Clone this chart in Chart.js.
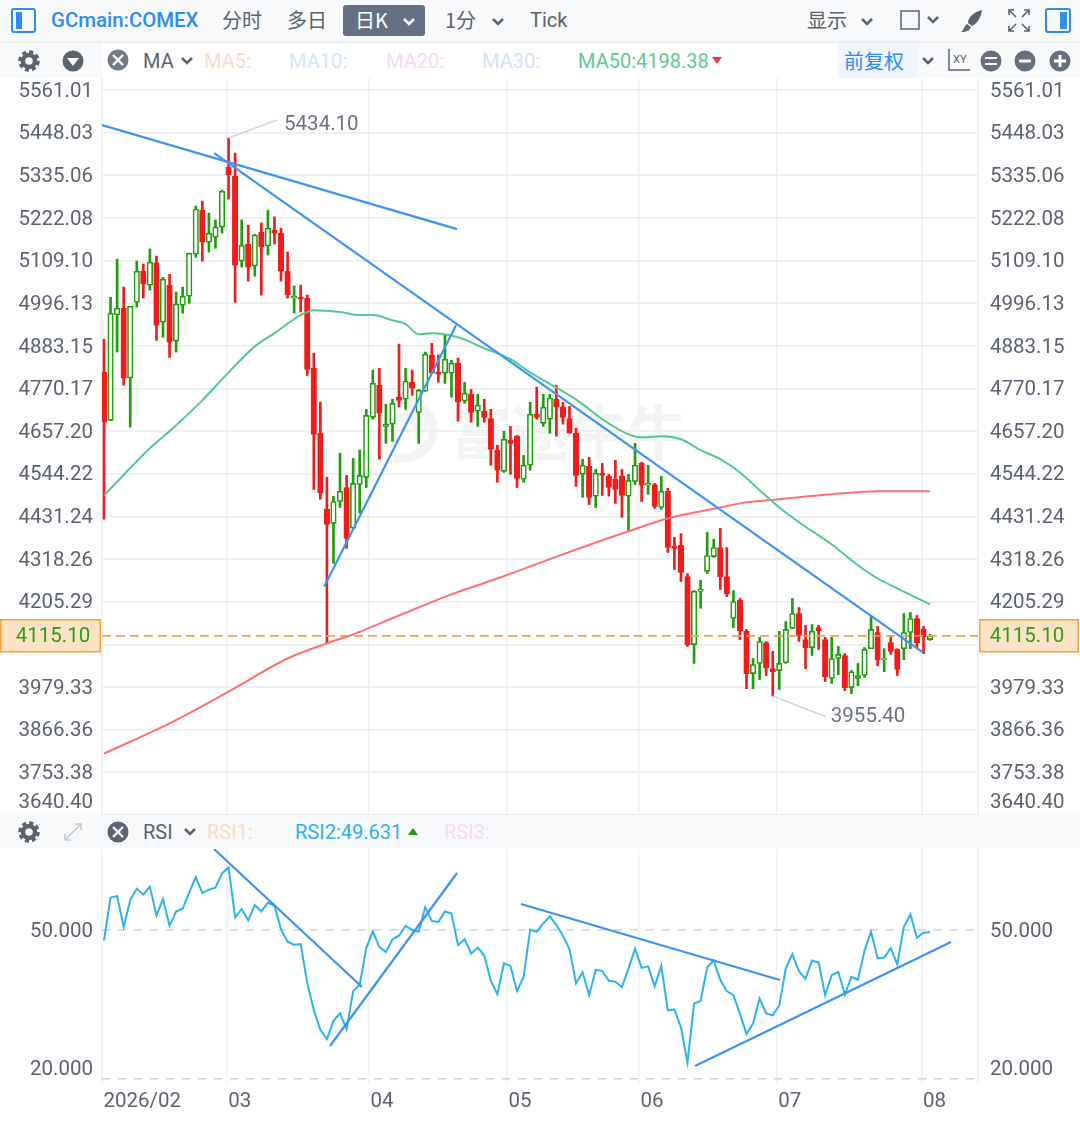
<!DOCTYPE html>
<html>
<head>
<meta charset="utf-8">
<title>GCmain:COMEX</title>
<script src="https://cdn.jsdelivr.net/npm/chart.js@4"></script>
<style>
  html, body { margin: 0; padding: 0; background: #fff; }
  body { width: 1080px; height: 1123px; position: relative; overflow: hidden;
    font-family: Roboto, "Noto Sans CJK SC", sans-serif; color: #5c6370; }
  canvas { position: absolute; left: 0; z-index: 2; }
  .bar { position: absolute; z-index: 3; background: #f7f9fa; left: 0; width: 1080px; }
  .t { position: absolute; white-space: nowrap; font-size: 20px; line-height: 24px; z-index: 4; text-align: left; }
  .cn { font-family: "Noto Sans CJK SC", sans-serif; font-size: 20px; line-height: 30px; }
  svg { position: absolute; z-index: 4; overflow: visible; }
  #wm { position: absolute; z-index: 1; left: 451px; top: 392px; line-height: 76px; font-size: 59px; color: #f3f4f5;
    font-family: "Noto Sans CJK SC", sans-serif; font-weight: 700; }
</style>
</head>
<body>
<!-- barra superior -->
<div class="bar" style="top:0;height:41px;border-bottom:2px solid #eceef0"></div>
<div class="bar" style="top:43px;height:35px;background:#f7f9fa"></div>
<div class="bar" style="top:43px;left:102px;width:737px;height:35px;background:#fff"></div>
<div class="bar" style="top:43px;left:838px;width:80px;height:35px;background:#eff6fd"></div>
<div class="bar" style="top:815px;height:33px"></div>

<svg style="left:11px;top:8px" width="25" height="25"><rect x="1" y="1" width="23" height="23" rx="2" fill="none" stroke="#2f8cf0" stroke-width="2"/><rect x="5" y="4" width="6" height="17" fill="#2f8cf0"/></svg>
<div class="t" style="left:51px;top:8px;color:#2f8cf0;font-weight:500;font-size:20.4px">GCmain:COMEX</div>
<div class="t cn" style="left:222px;top:5px">分时</div>
<div class="t cn" style="left:287px;top:5px">多日</div>
<div style="position:absolute;z-index:3;left:343px;top:5px;width:82px;height:31px;background:#667085;border-radius:3px"></div>
<div class="t cn" style="left:355px;top:5px;color:#fff">日K</div>
<svg style="left:402px;top:17px" width="14" height="10"><polyline points="2,2 7,7 12,2" fill="none" stroke="#fff" stroke-width="2.5"/></svg>
<div class="t cn" style="left:445px;top:5px">1分</div>
<svg style="left:491px;top:17px" width="14" height="10"><polyline points="2,2 7,7 12,2" fill="none" stroke="#5c6370" stroke-width="2.5"/></svg>
<div class="t" style="left:530px;top:8px">Tick</div>
<div class="t cn" style="left:807px;top:5px">显示</div>
<svg style="left:860px;top:17px" width="14" height="10"><polyline points="2,2 7,7 12,2" fill="none" stroke="#5c6370" stroke-width="2.5"/></svg>
<svg style="left:900px;top:10px" width="20" height="20"><rect x="1" y="1" width="18" height="18" fill="none" stroke="#5c6370" stroke-width="1.5"/></svg>
<svg style="left:926px;top:15px" width="14" height="10"><polyline points="2,2 7,7 12,2" fill="none" stroke="#5c6370" stroke-width="2.5"/></svg>
<svg style="left:960px;top:9px" width="23" height="24"><path d="M22 1 C14 3 8 8 8 14 L12 17 C18 14 21 8 22 1 Z M7 15 L11 18 C9 23 4 23 1 23 C4 21 4 17 7 15 Z" fill="#5c6370"/></svg>
<svg style="left:1008px;top:9px" width="22" height="23" fill="none" stroke="#5c6370" stroke-width="1.6"><path d="M1 6V1H6M16 1H21V6M21 17V22H16M6 22H1V17M2 2L8 8M20 2L14 8M20 21L14 15M2 21L8 15"/></svg>
<svg style="left:1045px;top:8px" width="26" height="25"><rect x="1" y="1" width="24" height="23" rx="2" fill="none" stroke="#2f8cf0" stroke-width="2"/><rect x="15" y="4" width="7" height="17" fill="#2f8cf0"/></svg>

<!-- fila de indicadores -->
<svg style="left:18px;top:50px" width="22" height="22"><circle cx="11" cy="11" r="6" fill="none" stroke="#5c6370" stroke-width="4.5"/><circle cx="11" cy="11" r="9" fill="none" stroke="#5c6370" stroke-width="3.5" stroke-dasharray="4 3.05"/></svg>
<svg style="left:62px;top:50px" width="22" height="22"><circle cx="11" cy="11" r="10.5" fill="#5c6370"/><polygon points="5,8 17,8 11,16" fill="#fff"/></svg>
<svg style="left:107px;top:49px" width="22" height="22"><circle cx="11" cy="11" r="10.5" fill="#737b88"/><path d="M6 6L16 16M16 6L6 16" stroke="#fff" stroke-width="2.4"/></svg>
<div class="t" style="left:143px;top:49px">MA</div>
<svg style="left:180px;top:56px" width="14" height="10"><polyline points="2,2 7,7 12,2" fill="none" stroke="#5c6370" stroke-width="2.5"/></svg>
<div class="t" style="left:204px;top:49px;color:#fddcc6">MA5:</div>
<div class="t" style="left:289px;top:49px;color:#d2e9fb">MA10:</div>
<div class="t" style="left:386px;top:49px;color:#f9d9f3">MA20:</div>
<div class="t" style="left:482px;top:49px;color:#d2e3fb">MA30:</div>
<div class="t" id="ma50Label" style="left:578px;top:49px;color:#5ecb92"></div>
<svg style="left:712px;top:57px" width="11" height="8"><polygon points="0,0 10,0 5,7" fill="#f03b3b"/></svg>
<div class="t cn" style="left:844px;top:46px;color:#2f8cf0">前复权</div>
<svg style="left:921px;top:56px" width="14" height="10"><polyline points="2,2 7,7 12,2" fill="none" stroke="#5c6370" stroke-width="2.5"/></svg>
<svg style="left:947px;top:49px" width="24" height="24" fill="none" stroke="#5c6370" stroke-width="1.5"><path d="M2 0V21H23"/><text x="6" y="14" font-size="11" fill="#5c6370" stroke="none">XY</text></svg>
<svg style="left:980px;top:50px" width="22" height="22"><circle cx="11" cy="11" r="10.5" fill="#66707f"/><path d="M5 8H17M5 14H17" stroke="#fff" stroke-width="2.2"/></svg>
<svg style="left:1014px;top:50px" width="22" height="22"><circle cx="11" cy="11" r="10.5" fill="#66707f"/><path d="M5 11H17" stroke="#fff" stroke-width="3"/></svg>
<svg style="left:1049px;top:50px" width="22" height="22"><circle cx="11" cy="11" r="10.5" fill="#66707f"/><path d="M5 11H17M11 5V17" stroke="#fff" stroke-width="3"/></svg>

<!-- fila RSI -->
<svg style="left:18px;top:821px" width="22" height="22"><circle cx="11" cy="11" r="6" fill="none" stroke="#5c6370" stroke-width="4.5"/><circle cx="11" cy="11" r="9" fill="none" stroke="#5c6370" stroke-width="3.5" stroke-dasharray="4 3.05"/></svg>
<svg style="left:64px;top:823px" width="18" height="18" fill="none" stroke="#c6ccd4" stroke-width="1.6"><path d="M11 1H17V7M17 1L1 17M1 11V17H7"/></svg>
<svg style="left:107px;top:821px" width="22" height="22"><circle cx="11" cy="11" r="10.5" fill="#5c6370"/><path d="M6 6L16 16M16 6L6 16" stroke="#fff" stroke-width="2.4"/></svg>
<div class="t" style="left:143px;top:820px">RSI</div>
<svg style="left:183px;top:827px" width="14" height="10"><polyline points="2,2 7,7 12,2" fill="none" stroke="#5c6370" stroke-width="2.5"/></svg>
<div class="t" style="left:207px;top:820px;color:#fddcc6">RSI1:</div>
<div class="t" id="rsi2Label" style="left:295px;top:820px;color:#2cb2ec"></div>
<svg style="left:408px;top:828px" width="11" height="8"><polygon points="0,7 10,7 5,0" fill="#1f9d0c"/></svg>
<div class="t" style="left:444px;top:820px;color:#f9d9f3">RSI3:</div>

<!-- marca de agua -->
<svg style="left:387px;top:392px;z-index:1" width="52" height="74" fill="none" stroke="#f3f4f5" stroke-width="9"><path d="M8 6 C38 6 48 30 46 40 C44 58 28 68 6 66"/><path d="M2 30 C18 20 30 26 30 38"/></svg>
<div id="wm">富途牛牛</div>

<canvas id="mainChart" width="1080" height="739" style="top:78px"></canvas>
<canvas id="rsiChart" width="1080" height="274" style="top:849px"></canvas>

<script>
// Velas
const opens = [4813,4686,4965,4983,4798,4999,5081,5044,5103,4946,5044,4896,4991,5015,5126,5243,5158,5171,5198,5357,
  5333,5108,5153,5095,5185,5148,5190,5182,5081,5010,5012,5010,4824,4652,4450,4413,4471,4508,4400,4516,
  4535,4694,4779,4670,4676,4747,4742,4787,4707,4763,4859,4813,4811,4811,4837,4737,4755,4710,4710,4691,
  4607,4551,4633,4644,4530,4567,4702,4678,4689,4742,4721,4691,4652,4543,4564,4485,4546,4538,4530,4538,
  4485,4524,4572,4514,4516,4455,4498,4352,4355,4272,4092,4233,4286,4325,4349,4272,4161,4209,4127,4015,
  4042,4097,4028,4023,4044,4135,4174,4105,4084,4137,4105,4002,4055,4063,3978,4002,4010,4081,4124,4052,
  4097,4079,4081,4124,4161,4132,4105];
const highs = [4901,5012,5113,5039,4988,5108,5100,5140,5121,5065,5073,5026,5039,5129,5254,5267,5235,5217,5296,5434.1,
  5394,5217,5203,5179,5209,5243,5225,5195,5132,5042,5044,5018,4864,4734,4535,4485,4599,4540,4585,4607,
  4715,4819,4824,4729,4742,4888,4824,4819,4768,4867,4890,4859,4912,4845,4851,4787,4768,4755,4742,4715,
  4620,4657,4670,4646,4593,4734,4774,4755,4755,4779,4734,4723,4665,4583,4588,4556,4572,4543,4580,4556,
  4543,4625,4575,4567,4519,4538,4506,4376,4386,4280,4235,4262,4389,4371,4400,4349,4235,4214,4132,4055,
  4111,4100,4074,4127,4153,4214,4190,4143,4145,4143,4111,4111,4087,4068,4023,4042,4084,4166,4140,4081,
  4113,4081,4174,4177,4169,4140,4119];
const lows = [4424,4686,4867,4779,4668,4986,5010,5031,4898,4906,4853,4867,4970,4996,5118,5108,5132,5142,5182,5272,
  4999,5092,5055,5068,5018,5124,5153,5055,5010,4970,4973,4805,4503,4477,4095,4307,4455,4347,4400,4440,
  4508,4689,4583,4625,4630,4721,4715,4752,4625,4763,4811,4787,4784,4747,4684,4731,4681,4670,4681,4567,
  4522,4548,4543,4508,4522,4554,4689,4670,4652,4644,4676,4652,4511,4482,4463,4455,4487,4485,4466,4429,
  4394,4516,4471,4490,4453,4450,4336,4291,4259,4087,4042,4188,4280,4323,4238,4219,4137,4105,3975,3975,
  3999,4010,3955.4,3973,4042,4135,4100,4028,4063,4079,3994,3989,4012,3970,3962,3983,4005,4081,4036,4020,
  4066,4010,4052,4081,4084,4068,4103];
const closes = [4681,4970,4983,4798,4988,5081,5047,5105,4938,5060,4893,4994,5015,5129,5246,5158,5182,5198,5293,5336,
  5097,5150,5092,5177,5145,5195,5182,5081,5018,5015,5007,4821,4649,4493,4410,4471,4498,4373,4519,4540,
  4699,4784,4705,4676,4731,4739,4790,4771,4766,4861,4811,4808,4848,4837,4734,4758,4707,4726,4694,4609,
  4554,4636,4625,4532,4567,4702,4694,4721,4745,4721,4694,4652,4540,4567,4482,4546,4540,4508,4503,4487,
  4527,4567,4514,4519,4458,4498,4349,4347,4283,4092,4233,4238,4328,4349,4272,4227,4206,4129,4015,4039,
  4100,4031,4020,4042,4132,4174,4116,4084,4127,4129,4007,4055,4066,3978,4020,4010,4079,4132,4052,4055,
  4074,4026,4124,4161,4097,4113,4115.1];

// Medias moviles (posicion de vela y valor)
const ma50X = [0,7,10.5,15,19,23,26,30,32,36,39,41,44,46,48,50,54,58,62,65,71,73,76,80,82,85,88,91,94,97,100,103,106,111,115,118,121,126];
const ma50Y = [4487,4612,4665,4739,4813,4882,4917,4965,4978,4973,4965,4965,4951,4941,4914,4917,4906,4877,4848,4813,4752,4729,4689,4649,4641,4644,4636,4607,4583,4548,4501,4455,4416,4357,4302,4267,4241,4198.38];
const ma200X = [0,10,19,28,34,38,45,53,60,70,80,86,94,97,103,111,118,126];
const ma200Y = [3803,3883,3967,4055,4095,4119,4169,4225,4267,4331,4392,4426,4455,4466,4477,4490,4498,4498];

// RSI2
const rsiValues = [47.9,56.6,56.9,50.7,56.1,58.4,57.2,58.8,53.0,56.3,50.9,53.8,54.4,57.6,60.8,57.5,58.2,58.6,61.5,62.7,
  52.6,54.3,52.0,55.1,53.8,55.6,55.0,50.2,47.7,47.1,47.2,39.3,33.9,29.9,28.0,31.7,33.2,30.0,37.7,39.0,
  46.4,49.8,46.6,45.6,48.2,48.9,50.9,50.1,49.7,54.7,51.9,51.7,53.8,53.4,47.0,48.2,45.3,46.5,44.9,39.8,
  37.1,43.3,42.8,37.7,40.6,50.1,49.7,51.4,52.8,51.1,48.9,46.2,39.3,41.5,36.9,42.0,41.8,39.8,39.6,38.5,
  42.3,46.3,42.4,42.7,38.7,42.8,33.8,34.0,30.4,23.3,35.2,35.7,42.5,43.9,40.0,37.7,36.9,33.1,29.0,31.2,
  36.2,33.2,32.8,34.8,42.3,45.2,41.7,40.2,43.9,43.5,36.9,40.9,41.6,37.0,40.6,40.0,45.9,49.7,44.3,44.5,
  46.4,43.1,50.7,53.2,48.5,49.5,49.631];

// Lineas de tendencia dibujadas a mano: [x1, y1, x2, y2]
const priceTrends = [[-0.3,5468.5,53.85,5192.7],[16.8,5394,124.9,4071],[33.6,4246,53.7,4938]];
const rsiTrends = [[16.78,66.43,39.35,38.54],[34.47,26.61,53.85,61.58],[63.6,55.32,103.1,39.95],[90.15,22.57,129.2,47.64]];

// Ejes
const xMin = -0.305, xMax = 133.31;
const xTickPos = [-0.305,18.72,40.42,61.47,81.6,102.6,124.7,133.31];
const xTickLabels = ["2026/02","03","04","05","06","07","08",""];
const priceTicks = [5561.01,5448.03,5335.06,5222.08,5109.10,4996.13,4883.15,4770.17,4657.20,4544.22,4431.24,4318.26,4205.29,4092.31,3979.33,3866.36,3753.38,3640.40];
const rsiTicks = [50,20];
const lastPrice = 4115.10, ma50Last = 4198.38, rsiLast = 49.631;
// Extremos senalados en el grafico: indice de vela, valor, fin de la guia
const peakNotes = [[19,5434.10,26.4,5482],[102,3955.40,110.1,3901]];

const RED = "#f21b1b", GREEN = "#1f9d0c", BLUE = "#3a93f5";
const TEXT_FONT = 'Roboto, sans-serif';
const tickColor = "#5c6370";
const TICK_SIZE = 20.5;
const noteOffsets = [[7, 5], [5, 0]];

document.getElementById("ma50Label").textContent = "MA50:" + ma50Last.toFixed(2);
document.getElementById("rsi2Label").textContent = "RSI2:" + rsiLast.toFixed(3);

const pairs = (xs, ys) => xs.map((x, i) => ({ x: x, y: ys[i] }));
const candleColor = (c) => (closes[c.dataIndex] >= opens[c.dataIndex] ? GREEN : RED);

function trendDataset(t, yAxisID) {
  return {
    type: "line", yAxisID: yAxisID, order: 1, borderColor: BLUE, borderWidth: 2.2, pointRadius: 0,
    data: [{ x: t[0], y: t[1] }, { x: t[2], y: t[3] }],
  };
}

function fixedTicks(values) {
  return (scale) => { scale.ticks = values.map((v) => ({ value: v })); };
}

// Sin relleno automatico: el area del grafico no debe moverse por las etiquetas
function noPadding(scale) {
  scale.paddingTop = 0;
  scale.paddingBottom = 0;
  scale.paddingLeft = 0;
  scale.paddingRight = 0;
}

// Eje Y lateral: ancho fijo para que el area del grafico coincida
function sideAxis(position, min, max, values, labelOf, grid, lineHeight) {
  return {
    type: "linear", position: position, min: min, max: max,
    afterBuildTicks: fixedTicks(values),
    afterFit: (scale) => { scale.width = 102; noPadding(scale); },
    border: grid.border,
    grid: grid.grid,
    ticks: {
      autoSkip: false, padding: position === "left" ? 9 : 12, labelOffset: 1.5, color: tickColor,
      font: { family: TEXT_FONT, size: TICK_SIZE, lineHeight: lineHeight },
      callback: labelOf,
    },
  };
}

const noGrid = { border: { display: false }, grid: { display: false, drawTicks: false } };

const priceTag = {
  id: "priceTag",
  afterDraw(chart) {
    const ctx = chart.ctx;
    const y = chart.scales.y.getPixelForValue(lastPrice);
    ctx.save();
    [[0, 101, 53], [979, 100, 1027]].forEach((b) => {
      ctx.fillStyle = "#fde2c6";
      ctx.strokeStyle = "#f5a23c";
      ctx.lineWidth = 1.5;
      ctx.fillRect(b[0], y - 16, b[1], 32);
      ctx.strokeRect(b[0] + 0.75, y - 16, b[1] - 1.5, 32);
      ctx.fillStyle = "#28a014";
      ctx.font = TICK_SIZE + "px " + TEXT_FONT;
      ctx.textAlign = "center";
      ctx.textBaseline = "middle";
      ctx.fillText(lastPrice.toFixed(2), b[2], y + 1);
    });
    // Notas de maximo y minimo
    ctx.fillStyle = "#6b7280";
    ctx.textAlign = "left";
    peakNotes.forEach((n, i) => {
      const px = chart.scales.x.getPixelForValue(n[2]);
      const py = chart.scales.y.getPixelForValue(n[3]);
      ctx.fillText(n[1].toFixed(2), px + noteOffsets[i][0], py + noteOffsets[i][1]);
    });
    ctx.restore();
  },
};

window.onload = () => {
  const mainGrid = {
    border: { display: false },
    grid: { color: "#eceef0", lineWidth: 1.8, drawTicks: false },
  };
  new Chart(document.getElementById("mainChart").getContext("2d"), {
    data: {
      datasets: [
        { type: "bar", order: 5, grouped: false, barThickness: 5.5, borderWidth: 1.6, borderSkipped: false,
          backgroundColor: (c) => (closes[c.dataIndex] >= opens[c.dataIndex] ? "#fff" : RED),
          borderColor: candleColor,
          data: opens.map((o, i) => ({ x: i, y: [o, closes[i]] })) },
        { type: "bar", order: 6, grouped: false, barThickness: 2, borderWidth: 0,
          backgroundColor: candleColor,
          data: lows.map((l, i) => ({ x: i, y: [l, highs[i]] })) },
        { type: "line", order: 2, borderColor: "#52c98e", borderWidth: 2, pointRadius: 0, cubicInterpolationMode: "monotone",
          data: pairs(ma50X, ma50Y) },
        { type: "line", order: 2, borderColor: "#ff6f70", borderWidth: 2, pointRadius: 0, cubicInterpolationMode: "monotone",
          data: pairs(ma200X, ma200Y) },
        { type: "line", order: 3, borderColor: "#f5a04b", borderWidth: 1.8, borderDash: [9, 5], pointRadius: 0,
          data: [{ x: xMin, y: lastPrice }, { x: xMax, y: lastPrice }] },
        ...priceTrends.map((t) => trendDataset(t, "y")),
        ...peakNotes.map((n) => ({
          type: "line", order: 4, borderColor: "#d4d7dc", borderWidth: 1.6, pointRadius: 0,
          data: [{ x: n[0], y: n[1] }, { x: n[2], y: n[3] }],
        })),
      ],
    },
    options: {
      responsive: false, animation: false, devicePixelRatio: 1,
      layout: { padding: { bottom: 2 } },
      plugins: { legend: { display: false }, tooltip: { enabled: false } },
      scales: {
        x: {
          type: "linear", min: xMin, max: xMax, offset: false,
          afterBuildTicks: fixedTicks(xTickPos),
          afterFit: noPadding,
          border: { display: false },
          grid: { offset: false, color: "#f0f1f3", lineWidth: 1.6, drawTicks: false },
          ticks: { display: false },
        },
        y: sideAxis("left", 3640.40, 5593, priceTicks, (v) => labelForPrice(v), mainGrid, 1.37),
        y2: sideAxis("right", 3640.40, 5593, priceTicks, (v) => labelForPrice(v), noGrid, 1.37),
      },
    },
    plugins: [priceTag],
  });

  // Panel RSI
  const rsiGrid = {
    border: { display: false, dash: [8, 8] },
    grid: { color: "#d3d6dc", lineWidth: 1.6, drawTicks: false },
  };
  const rsiLabel = (v) => (v === rsiTicks[1] ? [v.toFixed(3), ""] : v.toFixed(3));
  new Chart(document.getElementById("rsiChart").getContext("2d"), {
    data: {
      datasets: [
        { type: "line", order: 2, borderColor: "#2cb2ec", borderWidth: 2, pointRadius: 0,
          data: rsiValues.map((v, i) => ({ x: i, y: v })) },
        ...rsiTrends.map((t) => trendDataset(t, "y")),
      ],
    },
    options: {
      responsive: false, animation: false, devicePixelRatio: 1,
      plugins: { legend: { display: false }, tooltip: { enabled: false } },
      scales: {
        x: {
          type: "linear", min: xMin, max: xMax, offset: false,
          afterBuildTicks: fixedTicks(xTickPos),
          afterFit: (scale) => { scale.height = 40; noPadding(scale); },
          border: { display: false },
          grid: { offset: false, color: "#f0f1f3", lineWidth: 1.6, drawTicks: false },
          ticks: {
            autoSkip: false, maxRotation: 0, align: "start", padding: 7, labelOffset: 1.5, color: tickColor,
            font: { family: TEXT_FONT, size: TICK_SIZE },
            callback: (v, i) => xTickLabels[i],
          },
        },
        y: sideAxis("left", 19.13, 66.43, rsiTicks, rsiLabel, rsiGrid, 1),
        y2: sideAxis("right", 19.13, 66.43, rsiTicks, rsiLabel, noGrid, 1),
      },
    },
  });
};

// 4092.31 queda tapado por la etiqueta del precio actual; 3640.40 sube para no salirse
function labelForPrice(v) {
  if (v === priceTicks[13]) return "";
  if (v === priceTicks[17]) return [v.toFixed(2), ""];
  return v.toFixed(2);
}
</script>
</body>
</html>
